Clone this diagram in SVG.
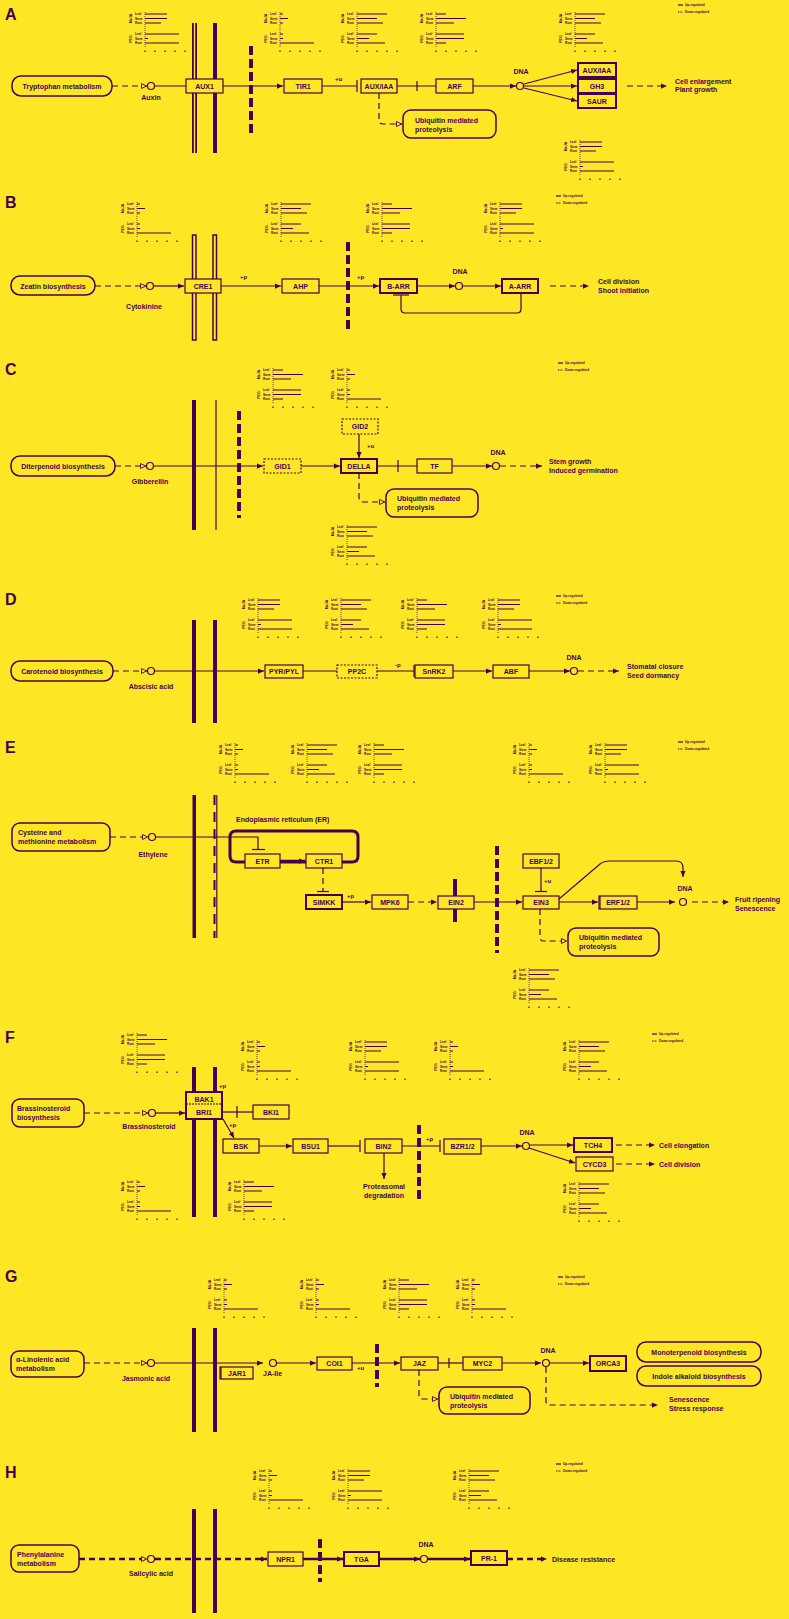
<svg xmlns="http://www.w3.org/2000/svg" xmlns:xlink="http://www.w3.org/1999/xlink" width="789" height="1619" viewBox="0 0 789 1619">
<style>
.t{font-family:"Liberation Sans",Arial,sans-serif;font-weight:bold;font-size:7px;fill:#440154}
.m{text-anchor:middle}
.pl{font-size:16px}
.sm{font-size:6px}
.cv{font-family:"Liberation Sans",Arial,sans-serif;font-weight:bold;font-size:3.6px;fill:#440154;text-anchor:middle}
.cr{font-family:"Liberation Sans",Arial,sans-serif;font-weight:bold;font-size:3px;fill:#440154}
.lgt{font-family:"Liberation Sans",Arial,sans-serif;font-weight:bold;font-size:3.2px;fill:#440154}
.ax{stroke:#440154;stroke-width:0.7;stroke-dasharray:1 1;fill:none}
.br{stroke:#440154;stroke-width:1.2;fill:none}
.bx{fill:#FDE725;stroke:#440154;stroke-width:1.2}
.bb{stroke-width:2}
.bd{stroke-dasharray:2 1.5}
.rb{fill:#FDE725;stroke:#440154;stroke-width:1.5}
.c{fill:none;stroke:#440154;stroke-width:1.2}
.d{stroke-dasharray:6 4}
.tk{stroke-width:2.5}
.mem{fill:#440154}
.memo{fill:none;stroke:#440154;stroke-width:1.5}
.dm{fill:none;stroke:#440154;stroke-width:4;stroke-dasharray:9 4}
.lig{fill:#FDE725;stroke:#440154;stroke-width:1.2}
</style>
<defs>
<marker id="ar" viewBox="0 0 8 8" refX="8" refY="4" markerWidth="6" markerHeight="6" markerUnits="userSpaceOnUse" orient="auto"><path d="M0,0.5 L8,4 L0,7.5z" fill="#440154"/></marker>
<marker id="oa" viewBox="0 0 8 8" refX="8" refY="4" markerWidth="6" markerHeight="6" markerUnits="userSpaceOnUse" orient="auto"><path d="M0.7,0.7 L7.5,4 L0.7,7.3z" fill="#FDE725" stroke="#440154" stroke-width="1.2"/></marker>
<g id="chb">
<text class="cv" transform="translate(4,6.5) rotate(-90)">MeJA</text>
<text class="cv" transform="translate(4,27) rotate(-90)">PEG</text>
<text class="cr" x="7" y="3">Leaf</text>
<text class="cr" x="7" y="7.5">Stem</text>
<text class="cr" x="7" y="12">Root</text>
<text class="cr" x="7" y="23">Leaf</text>
<text class="cr" x="7" y="27.5">Stem</text>
<text class="cr" x="7" y="32">Root</text>
<line class="ax" x1="17" y1="0" x2="17" y2="36"/>
<path class="br" d="M17,38.5v1.5M27,38.5v1.5M37,38.5v1.5M47,38.5v1.5M57,38.5v1.5"/>
</g>
<path id="b1" class="br" d="M17,2h22M17,6.5h22M17,11h16M17,22h34M17,26.5h3M17,31h34"/>
<path id="b2" class="br" d="M17,2h3M17,6.5h8M17,11h3M17,22h3M17,26.5h3M17,31h34"/>
<path id="b3" class="br" d="M17,2h30M17,6.5h20M17,11h26M17,22h20M17,26.5h12M17,31h28"/>
<path id="b4" class="br" d="M17,2h10M17,6.5h30M17,11h18M17,22h28M17,26.5h28M17,31h10"/>
<g id="lg"><path d="M0,-1h5" class="br" stroke-width="0.8"/><text class="lgt" x="7" y="0">Up-regulated</text><path d="M0,6h5" class="br" stroke-width="0.8" stroke-dasharray="1 0.6"/><text class="lgt" x="7" y="7">Down-regulated</text></g>
</defs>
<rect width="789" height="1619" fill="#FDE725"/>

<!-- ================= PANEL A ================= -->
<g id="panelA">
<text class="t pl" x="5" y="20">A</text>
<g id="A-charts">
<g transform="translate(128,12)"><use href="#chb"/><use href="#b1"/></g>
<g transform="translate(263,12)"><use href="#chb"/><use href="#b2"/></g>
<g transform="translate(340,12)"><use href="#chb"/><use href="#b3"/></g>
<g transform="translate(419,12)"><use href="#chb"/><use href="#b4"/></g>
<g transform="translate(558,12)"><use href="#chb"/><use href="#b3"/></g>
<g transform="translate(563,140)"><use href="#chb"/><use href="#b1"/></g>
<g transform="translate(678,6)"><use href="#lg"/></g>
</g>
<g id="A-membrane">
<rect class="mem" x="192" y="23" width="1.8" height="130"/>
<rect class="mem" x="195.2" y="23" width="1.8" height="130"/>
<rect class="mem" x="213" y="23" width="4" height="130"/>
<line class="dm" x1="251" y1="46" x2="251" y2="137"/>
</g>
<g id="A-connectors">
<line class="c d" x1="112" y1="86" x2="147" y2="86" marker-end="url(#oa)"/>
<line class="c" x1="155" y1="86" x2="283" y2="86" marker-end="url(#ar)"/>
<line class="c" x1="322" y1="86" x2="357" y2="86"/>
<line class="c" x1="357" y1="80" x2="357" y2="92" stroke-width="1.5"/>
<line class="c" x1="397" y1="86" x2="436" y2="86"/>
<line class="c" x1="417" y1="81" x2="417" y2="91"/>
<line class="c" x1="473" y1="86" x2="516" y2="86" marker-end="url(#ar)"/>
<line class="c" x1="524" y1="84" x2="577" y2="70" marker-end="url(#ar)"/>
<line class="c" x1="524" y1="86" x2="577" y2="86" marker-end="url(#ar)"/>
<line class="c" x1="524" y1="88" x2="577" y2="101" marker-end="url(#ar)"/>
<line class="c d" x1="627" y1="86" x2="667" y2="86" marker-end="url(#ar)"/>
<path class="c d" d="M379,93 V120 Q379,124 383,124 H402" marker-end="url(#oa)"/>
<text class="t sm" x="335" y="81">+u</text>
</g>
<g id="A-tryptophan"><rect class="rb" x="12" y="76" width="100" height="20" rx="9"/><text class="t m" x="62" y="88.5">Tryptophan metabolism</text></g>
<g id="A-auxin"><circle class="lig" cx="151" cy="86" r="3.5"/><text class="t m" x="151" y="100">Auxin</text></g>
<g id="A-AUX1"><rect class="bx" x="186" y="79" width="37" height="14"/><text class="t m" x="204.5" y="88.5">AUX1</text></g>
<g id="A-TIR1"><rect class="bx" x="284" y="79" width="38" height="14"/><text class="t m" x="303" y="88.5">TIR1</text></g>
<g id="A-AUXIAA"><rect class="bx" x="361" y="79" width="36" height="14"/><text class="t m" x="379" y="88.5">AUX/IAA</text></g>
<g id="A-ARF"><rect class="bx" x="436" y="79" width="37" height="14"/><text class="t m" x="454.5" y="88.5">ARF</text></g>
<g id="A-DNA"><circle class="lig" cx="520" cy="86" r="3.5"/><text class="t m" x="521" y="74">DNA</text></g>
<g id="A-AUXIAA2"><rect class="bx bb" x="578" y="63" width="38" height="14"/><text class="t m" x="597" y="72.5">AUX/IAA</text></g>
<g id="A-GH3"><rect class="bx bb" x="578" y="79" width="38" height="14"/><text class="t m" x="597" y="88.5">GH3</text></g>
<g id="A-SAUR"><rect class="bx bb" x="578" y="94" width="38" height="14"/><text class="t m" x="597" y="103.5">SAUR</text></g>
<g id="A-out"><text class="t" x="675" y="84">Cell enlargement</text><text class="t" x="675" y="92">Plant growth</text></g>
<g id="A-ubq"><rect class="rb" x="403" y="110" width="93" height="28" rx="8"/><text class="t" x="415" y="123">Ubiquitin mediated</text><text class="t" x="415" y="131.5">proteolysis</text></g>
</g>

<!-- ================= PANEL B ================= -->
<g id="panelB">
<text class="t pl" x="5" y="208">B</text>
<g id="B-charts">
<g transform="translate(120,202)"><use href="#chb"/><use href="#b2"/></g>
<g transform="translate(264,202)"><use href="#chb"/><use href="#b3"/></g>
<g transform="translate(365,202)"><use href="#chb"/><use href="#b4"/></g>
<g transform="translate(483,202)"><use href="#chb"/><use href="#b1"/></g>
<g transform="translate(556,197)"><use href="#lg"/></g>
</g>
<g id="B-membrane">
<rect class="memo" x="192.5" y="235" width="3.5" height="105"/>
<rect class="memo" x="213" y="235" width="3.5" height="105"/>
<line class="dm" x1="348" y1="242" x2="348" y2="333"/>
</g>
<g id="B-connectors">
<line class="c d" x1="95" y1="286" x2="146" y2="286" marker-end="url(#oa)"/>
<line class="c" x1="154" y1="286" x2="184" y2="286" marker-end="url(#ar)"/>
<line class="c" x1="221" y1="286" x2="281" y2="286" marker-end="url(#ar)"/>
<line class="c" x1="319" y1="286" x2="379" y2="286" marker-end="url(#ar)"/>
<line class="c" x1="417" y1="286" x2="455" y2="286" marker-end="url(#ar)"/>
<line class="c" x1="463" y1="286" x2="501" y2="286" marker-end="url(#ar)"/>
<path class="c" d="M521,293 V309 Q521,313 517,313 H405 Q401,313 401,309 V295"/>
<line class="c" x1="393" y1="295" x2="409" y2="295" stroke-width="1.5"/>
<line class="c d" x1="550" y1="286" x2="589" y2="286" marker-end="url(#ar)"/>
<text class="t sm" x="240" y="279">+p</text>
<text class="t sm" x="357" y="279">+p</text>
</g>
<g id="B-zeatin"><rect class="rb" x="11" y="276" width="84" height="19" rx="9"/><text class="t m" x="53" y="288.5">Zeatin biosynthesis</text></g>
<g id="B-cytokinine"><circle class="lig" cx="150" cy="286" r="3.5"/><text class="t m" x="144" y="309">Cytokinine</text></g>
<g id="B-CRE1"><rect class="bx" x="185" y="279" width="36" height="14"/><text class="t m" x="203" y="288.5">CRE1</text></g>
<g id="B-AHP"><rect class="bx" x="282" y="279" width="37" height="14"/><text class="t m" x="300.5" y="288.5">AHP</text></g>
<g id="B-BARR"><rect class="bx bb" x="380" y="279" width="37" height="14"/><text class="t m" x="398.5" y="288.5">B-ARR</text></g>
<g id="B-DNA"><circle class="lig" cx="459" cy="286" r="3.5"/><text class="t m" x="460" y="274">DNA</text></g>
<g id="B-AARR"><rect class="bx bb" x="502" y="279" width="36" height="14"/><text class="t m" x="520" y="288.5">A-ARR</text></g>
<g id="B-out"><text class="t" x="598" y="284">Cell division</text><text class="t" x="598" y="293">Shoot initiation</text></g>
</g>

<!-- ================= PANEL C ================= -->
<g id="panelC">
<text class="t pl" x="5" y="375">C</text>
<g id="C-charts">
<g transform="translate(256,368)"><use href="#chb"/><use href="#b4"/></g>
<g transform="translate(330,368)"><use href="#chb"/><use href="#b2"/></g>
<g transform="translate(330,525)"><use href="#chb"/><use href="#b3"/></g>
<g transform="translate(558,364)"><use href="#lg"/></g>
</g>
<g id="C-membrane">
<rect class="mem" x="192" y="400" width="4" height="130"/>
<line class="c" x1="216" y1="400" x2="216" y2="530"/>
<line class="dm" x1="239" y1="411" x2="239" y2="518"/>
</g>
<g id="C-connectors">
<line class="c d" x1="115" y1="466" x2="146" y2="466" marker-end="url(#oa)"/>
<line class="c" x1="154" y1="466" x2="263" y2="466" marker-end="url(#ar)"/>
<line class="c" x1="301" y1="466" x2="340" y2="466" marker-end="url(#ar)"/>
<line class="c" x1="359" y1="434" x2="359" y2="458" marker-end="url(#ar)"/>
<line class="c" x1="377" y1="466" x2="417" y2="466"/>
<line class="c" x1="398" y1="460" x2="398" y2="472" stroke-width="1.5"/>
<line class="c" x1="452" y1="466" x2="492" y2="466" marker-end="url(#ar)"/>
<line class="c d" x1="500" y1="466" x2="542" y2="466" marker-end="url(#ar)"/>
<path class="c d" d="M359,473 V497 Q359,502 364,502 H385" marker-end="url(#oa)"/>
<text class="t sm" x="367" y="448">+u</text>
</g>
<g id="C-diterpenoid"><rect class="rb" x="11" y="456" width="104" height="20" rx="9"/><text class="t m" x="63" y="468.5">Diterpenoid biosynthesis</text></g>
<g id="C-gibberellin"><circle class="lig" cx="150" cy="466" r="3.5"/><text class="t m" x="150" y="484">Gibberellin</text></g>
<g id="C-GID1"><rect class="bx bd" x="264" y="459" width="37" height="14"/><text class="t m" x="282.5" y="468.5">GID1</text></g>
<g id="C-GID2"><rect class="bx bd" x="342" y="419" width="36" height="15"/><text class="t m" x="360" y="429">GID2</text></g>
<g id="C-DELLA"><rect class="bx bb" x="341" y="459" width="36" height="14"/><text class="t m" x="359" y="468.5">DELLA</text></g>
<g id="C-TF"><rect class="bx" x="417" y="459" width="35" height="14"/><text class="t m" x="434.5" y="468.5">TF</text></g>
<g id="C-DNA"><circle class="lig" cx="496" cy="466" r="3.5"/><text class="t m" x="498" y="455">DNA</text></g>
<g id="C-out"><text class="t" x="549" y="464">Stem growth</text><text class="t" x="549" y="473">Induced germination</text></g>
<g id="C-ubq"><rect class="rb" x="386" y="489" width="92" height="28" rx="8"/><text class="t" x="397" y="501">Ubiquitin mediated</text><text class="t" x="397" y="510">proteolysis</text></g>
</g>

<!-- ================= PANEL D ================= -->
<g id="panelD">
<text class="t pl" x="5" y="605">D</text>
<g id="D-charts">
<g transform="translate(241,598)"><use href="#chb"/><use href="#b1"/></g>
<g transform="translate(324,598)"><use href="#chb"/><use href="#b3"/></g>
<g transform="translate(400,598)"><use href="#chb"/><use href="#b4"/></g>
<g transform="translate(481,598)"><use href="#chb"/><use href="#b1"/></g>
<g transform="translate(556,597)"><use href="#lg"/></g>
</g>
<g id="D-membrane">
<rect class="mem" x="192" y="620" width="4" height="103"/>
<rect class="mem" x="213" y="620" width="4" height="103"/>
</g>
<g id="D-connectors">
<line class="c d" x1="113" y1="671" x2="147" y2="671" marker-end="url(#oa)"/>
<line class="c" x1="155" y1="671" x2="264" y2="671" marker-end="url(#ar)"/>
<line class="c" x1="303" y1="671" x2="337" y2="671"/>
<line class="c" x1="377" y1="671" x2="414" y2="671"/>
<line class="c" x1="414" y1="665" x2="414" y2="677" stroke-width="1.5"/>
<line class="c" x1="453" y1="671" x2="492" y2="671" marker-end="url(#ar)"/>
<line class="c" x1="529" y1="671" x2="570" y2="671" marker-end="url(#ar)"/>
<line class="c d" x1="578" y1="671" x2="619" y2="671" marker-end="url(#ar)"/>
<text class="t sm" x="395" y="667">-p</text>
</g>
<g id="D-carotenoid"><rect class="rb" x="11" y="661" width="102" height="20" rx="9"/><text class="t m" x="62" y="673.5">Carotenoid biosynthesis</text></g>
<g id="D-aba"><circle class="lig" cx="151" cy="671" r="3.5"/><text class="t m" x="151" y="689">Abscisic acid</text></g>
<g id="D-PYR"><rect class="bx" x="265" y="665" width="38" height="13"/><text class="t m" x="284" y="674">PYR/PYL</text></g>
<g id="D-PP2C"><rect class="bx bd" x="337" y="665" width="40" height="13"/><text class="t m" x="357" y="674">PP2C</text></g>
<g id="D-SnRK2"><rect class="bx" x="415" y="665" width="38" height="13"/><text class="t m" x="434" y="674">SnRK2</text></g>
<g id="D-ABF"><rect class="bx" x="493" y="665" width="36" height="13"/><text class="t m" x="511" y="674">ABF</text></g>
<g id="D-DNA"><circle class="lig" cx="574" cy="671" r="3.5"/><text class="t m" x="574" y="660">DNA</text></g>
<g id="D-out"><text class="t" x="627" y="669">Stomatal closure</text><text class="t" x="627" y="678">Seed dormancy</text></g>
</g>

<!-- ================= PANEL E ================= -->
<g id="panelE">
<text class="t pl" x="5" y="753">E</text>
<g id="E-charts">
<g transform="translate(218,743)"><use href="#chb"/><use href="#b2"/></g>
<g transform="translate(290,743)"><use href="#chb"/><use href="#b3"/></g>
<g transform="translate(357,743)"><use href="#chb"/><use href="#b4"/></g>
<g transform="translate(512,743)"><use href="#chb"/><use href="#b2"/></g>
<g transform="translate(588,743)"><use href="#chb"/><use href="#b1"/></g>
<g transform="translate(512,968)"><use href="#chb"/><use href="#b3"/></g>
<g transform="translate(678,743)"><use href="#lg"/></g>
</g>
<g id="E-membrane">
<rect class="mem" x="192.5" y="795" width="3.5" height="143"/>
<line class="c" x1="216.8" y1="795" x2="216.8" y2="938"/>
<line x1="214.5" y1="795" x2="214.5" y2="938" stroke="#440154" stroke-width="2" stroke-dasharray="10 7"/>
<line class="dm" x1="497" y1="846" x2="497" y2="953"/>
<path d="M236,831 H352 Q358,831 358,837 V856 Q358,862 352,862 H342 M306,862 H280 M245,862 H236 Q230,862 230,856 V837 Q230,831 236,831" fill="none" stroke="#440154" stroke-width="3"/>
<text class="t" x="236" y="822">Endoplasmic reticulum (ER)</text>
</g>
<g id="E-connectors">
<line class="c d" x1="110" y1="837" x2="148" y2="837" marker-end="url(#oa)"/>
<path class="c" d="M156,837 H258 V849"/>
<line class="c" x1="252" y1="849.5" x2="265" y2="849.5" stroke-width="1.5"/>
<line class="c tk" x1="280" y1="861" x2="305" y2="861" marker-end="url(#ar)"/>
<line class="c d" x1="323" y1="868" x2="323" y2="891" stroke-dasharray="4 3"/>
<line class="c" x1="317" y1="891.5" x2="329" y2="891.5" stroke-width="1.5"/>
<line class="c" x1="342" y1="902" x2="371" y2="902" marker-end="url(#ar)"/>
<line class="c d" x1="408" y1="902" x2="437" y2="902" marker-end="url(#ar)"/>
<line class="c" x1="474" y1="902" x2="522" y2="902" marker-end="url(#ar)"/>
<line class="c" x1="541" y1="868" x2="541" y2="891"/>
<line class="c" x1="535" y1="891.5" x2="547" y2="891.5" stroke-width="1.5"/>
<path class="c" d="M559,899 L600,864 Q604,861 610,861 H676 Q683,861 683,868 V877" marker-end="url(#ar)"/>
<line class="c" x1="559" y1="902" x2="598" y2="902" marker-end="url(#ar)"/>
<line class="c" x1="637" y1="902" x2="675" y2="902" marker-end="url(#ar)"/>
<line class="c d" x1="692" y1="902" x2="729" y2="902" marker-end="url(#ar)"/>
<path class="c d" d="M540,909 V937 Q540,941 544,941 H567" marker-end="url(#oa)"/>
<text class="t sm" x="347" y="898">+p</text>
<text class="t sm" x="544" y="883">+u</text>
</g>
<g id="E-cysteine"><rect class="rb" x="12" y="823" width="98" height="28" rx="8"/><text class="t" x="18" y="834.5">Cysteine and</text><text class="t" x="18" y="843.5">methionine metabolism</text></g>
<g id="E-ethylene"><circle class="lig" cx="152" cy="837" r="3.5"/><text class="t m" x="153" y="857">Ethylene</text></g>
<g id="E-ETR"><rect class="bx" x="245" y="854" width="35" height="14"/><text class="t m" x="262.5" y="863.5">ETR</text></g>
<g id="E-CTR1"><rect class="bx" x="306" y="854" width="36" height="14"/><text class="t m" x="324" y="863.5">CTR1</text></g>
<g id="E-SIMKK"><rect class="bx bb" x="306" y="895" width="36" height="14"/><text class="t m" x="324" y="904.5">SIMKK</text></g>
<g id="E-MPK6"><rect class="bx" x="372" y="895" width="36" height="14"/><text class="t m" x="390" y="904.5">MPK6</text></g>
<g id="E-EIN2"><rect class="mem" x="453" y="879" width="4" height="43"/><rect class="bx" x="438" y="896" width="36" height="13"/><text class="t m" x="456" y="905">EIN2</text></g>
<g id="E-EBF"><rect class="bx" x="523" y="854" width="36" height="14"/><text class="t m" x="541" y="863.5">EBF1/2</text></g>
<g id="E-EIN3"><rect class="bx" x="523" y="896" width="36" height="13"/><text class="t m" x="541" y="905">EIN3</text></g>
<g id="E-ERF"><rect class="bx" x="599" y="896" width="38" height="13"/><line class="c" x1="600" y1="896" x2="600" y2="909" stroke-width="2"/><text class="t m" x="618" y="905">ERF1/2</text></g>
<g id="E-DNA"><circle class="lig" cx="683" cy="902" r="3.5"/><text class="t m" x="685" y="891">DNA</text></g>
<g id="E-out"><text class="t" x="735" y="902">Fruit ripening</text><text class="t" x="735" y="910.5">Senescence</text></g>
<g id="E-ubq"><rect class="rb" x="568" y="928" width="91" height="28" rx="8"/><text class="t" x="579" y="940">Ubiquitin mediated</text><text class="t" x="579" y="949">proteolysis</text></g>
</g>

<!-- ================= PANEL F ================= -->
<g id="panelF">
<text class="t pl" x="5" y="1043">F</text>
<g id="F-charts">
<g transform="translate(120,1033)"><use href="#chb"/><use href="#b4"/></g>
<g transform="translate(240,1040)"><use href="#chb"/><use href="#b2"/></g>
<g transform="translate(348,1040)"><use href="#chb"/><use href="#b1"/></g>
<g transform="translate(433,1040)"><use href="#chb"/><use href="#b2"/></g>
<g transform="translate(562,1040)"><use href="#chb"/><use href="#b3"/></g>
<g transform="translate(120,1180)"><use href="#chb"/><use href="#b2"/></g>
<g transform="translate(227,1180)"><use href="#chb"/><use href="#b4"/></g>
<g transform="translate(562,1182)"><use href="#chb"/><use href="#b3"/></g>
<g transform="translate(652,1035)"><use href="#lg"/></g>
</g>
<g id="F-membrane">
<rect class="mem" x="192" y="1067" width="4" height="150"/>
<rect class="mem" x="213" y="1067" width="4" height="150"/>
<line class="dm" x1="419" y1="1125" x2="419" y2="1201"/>
</g>
<g id="F-connectors">
<line class="c d" x1="84" y1="1113" x2="148" y2="1113" marker-end="url(#oa)"/>
<line class="c" x1="156" y1="1113" x2="185" y2="1113" marker-end="url(#ar)"/>
<line class="c" x1="222" y1="1112" x2="253" y2="1112"/>
<line class="c" x1="237" y1="1106" x2="237" y2="1118"/>
<line class="c" x1="223" y1="1119" x2="234" y2="1138" marker-end="url(#ar)"/>
<line class="c" x1="259" y1="1146" x2="292" y2="1146" marker-end="url(#ar)"/>
<line class="c" x1="328" y1="1146" x2="360" y2="1146"/>
<line class="c" x1="360" y1="1140" x2="360" y2="1152" stroke-width="1.5"/>
<line class="c" x1="384" y1="1153" x2="384" y2="1179" marker-end="url(#ar)"/>
<line class="c" x1="402" y1="1146" x2="440" y2="1146"/>
<line class="c" x1="440" y1="1140" x2="440" y2="1152" stroke-width="1.5"/>
<line class="c" x1="481" y1="1146" x2="522" y2="1146" marker-end="url(#ar)"/>
<line class="c" x1="530" y1="1145" x2="573" y2="1145" marker-end="url(#ar)"/>
<line class="c" x1="529" y1="1148" x2="575" y2="1163" marker-end="url(#ar)"/>
<line class="c d" x1="616" y1="1145" x2="655" y2="1145" marker-end="url(#ar)"/>
<line class="c d" x1="616" y1="1164" x2="655" y2="1164" marker-end="url(#ar)"/>
<text class="t sm" x="219" y="1088">+p</text>
<text class="t sm" x="229" y="1127">+p</text>
<text class="t sm" x="426" y="1141">+p</text>
</g>
<g id="F-brassinosteroid-bio"><rect class="rb" x="12" y="1099" width="72" height="28" rx="8"/><text class="t" x="17" y="1110.5">Brassinosteroid</text><text class="t" x="17" y="1119.5">biosynthesis</text></g>
<g id="F-brassinosteroid"><circle class="lig" cx="152" cy="1113" r="3.5"/><text class="t m" x="149" y="1129">Brassinosteroid</text></g>
<g id="F-BAK1BRI1"><rect class="bx bb" x="186" y="1092" width="36" height="27"/><line class="c" x1="186" y1="1104" x2="222" y2="1104" stroke-dasharray="2 1"/><text class="t m" x="204" y="1101.5">BAK1</text><text class="t m" x="204" y="1115">BRI1</text></g>
<g id="F-BKI1"><rect class="bx" x="253" y="1105" width="36" height="14"/><text class="t m" x="271" y="1114.5">BKI1</text></g>
<g id="F-BSK"><rect class="bx" x="223" y="1139" width="36" height="14"/><text class="t m" x="241" y="1148.5">BSK</text></g>
<g id="F-BSU1"><rect class="bx" x="293" y="1139" width="35" height="14"/><text class="t m" x="310.5" y="1148.5">BSU1</text></g>
<g id="F-BIN2"><rect class="bx" x="365" y="1139" width="37" height="14"/><text class="t m" x="383.5" y="1148.5">BIN2</text></g>
<g id="F-proteasomal"><text class="t m" x="384" y="1189">Proteasomal</text><text class="t m" x="384" y="1198">degradation</text></g>
<g id="F-BZR"><rect class="bx" x="444" y="1139" width="37" height="15"/><text class="t m" x="462.5" y="1149">BZR1/2</text></g>
<g id="F-DNA"><circle class="lig" cx="526" cy="1146" r="3.5"/><text class="t m" x="527" y="1135">DNA</text></g>
<g id="F-TCH4"><rect class="bx bb" x="574" y="1138" width="38" height="14"/><text class="t m" x="593" y="1147.5">TCH4</text></g>
<g id="F-CYCD3"><rect class="bx" x="576" y="1157" width="37" height="14"/><text class="t m" x="594.5" y="1166.5">CYCD3</text></g>
<g id="F-out"><text class="t" x="659" y="1148">Cell elongation</text><text class="t" x="659" y="1167">Cell division</text></g>
</g>

<!-- ================= PANEL G ================= -->
<g id="panelG">
<text class="t pl" x="5" y="1282">G</text>
<g id="G-charts">
<g transform="translate(207,1278)"><use href="#chb"/><use href="#b2"/></g>
<g transform="translate(299,1278)"><use href="#chb"/><use href="#b2"/></g>
<g transform="translate(382,1278)"><use href="#chb"/><use href="#b4"/></g>
<g transform="translate(455,1278)"><use href="#chb"/><use href="#b2"/></g>
<g transform="translate(558,1278)"><use href="#lg"/></g>
</g>
<g id="G-membrane">
<rect class="mem" x="192" y="1328" width="4" height="104"/>
<rect class="mem" x="213" y="1328" width="4" height="104"/>
<line class="dm" x1="377" y1="1344" x2="377" y2="1387"/>
</g>
<g id="G-connectors">
<line class="c d" x1="84" y1="1363" x2="147" y2="1363" marker-end="url(#oa)"/>
<line class="c" x1="155" y1="1363" x2="263" y2="1363" marker-end="url(#ar)"/>
<line class="c" x1="277" y1="1363" x2="316" y2="1363" marker-end="url(#ar)"/>
<line class="c" x1="352" y1="1363" x2="400" y2="1363" marker-end="url(#ar)"/>
<line class="c" x1="438" y1="1363" x2="463" y2="1363"/>
<line class="c" x1="449" y1="1358" x2="449" y2="1368"/>
<line class="c" x1="502" y1="1363" x2="541" y2="1363" marker-end="url(#ar)"/>
<line class="c" x1="550" y1="1363" x2="589" y2="1363" marker-end="url(#ar)"/>
<path class="c d" d="M419,1370 V1395 Q419,1399 423,1399 H438" marker-end="url(#oa)"/>
<path class="c d" d="M546,1367 V1401 Q546,1405 550,1405 H658" marker-end="url(#ar)"/>
<text class="t sm" x="357" y="1370">+u</text>
</g>
<g id="G-linolenic"><rect class="rb" x="11" y="1351" width="73" height="26" rx="8"/><text class="t" x="16" y="1362">α-Linolenic acid</text><text class="t" x="16" y="1371">metabolism</text></g>
<g id="G-ja"><circle class="lig" cx="151" cy="1363" r="3.5"/><text class="t m" x="146" y="1381">Jasmonic acid</text></g>
<g id="G-JAR1"><rect class="bx" x="220" y="1367" width="33" height="12"/><line class="c" x1="221" y1="1367" x2="221" y2="1379" stroke-width="2"/><text class="t m" x="237" y="1375.5">JAR1</text></g>
<g id="G-JAIle"><circle class="lig" cx="273" cy="1363" r="3.5"/><text class="t" x="263" y="1376">JA-Ile</text></g>
<g id="G-COI1"><rect class="bx" x="317" y="1357" width="35" height="13"/><text class="t m" x="334.5" y="1366">COI1</text></g>
<g id="G-JAZ"><rect class="bx" x="401" y="1357" width="37" height="13"/><text class="t m" x="419.5" y="1366">JAZ</text></g>
<g id="G-MYC2"><rect class="bx" x="463" y="1357" width="39" height="13"/><text class="t m" x="482.5" y="1366">MYC2</text></g>
<g id="G-DNA"><circle class="lig" cx="546" cy="1363" r="3.5"/><text class="t m" x="548" y="1353">DNA</text></g>
<g id="G-ORCA3"><rect class="bx bb" x="590" y="1356" width="36" height="15"/><text class="t m" x="608" y="1366">ORCA3</text></g>
<g id="G-mono"><rect class="rb" x="637" y="1342" width="124" height="20" rx="9"/><text class="t m" x="699" y="1354.5">Monoterpenoid biosynthesis</text></g>
<g id="G-indole"><rect class="rb" x="637" y="1366" width="124" height="20" rx="9"/><text class="t m" x="699" y="1378.5">Indole alkaloid biosynthesis</text></g>
<g id="G-ubq"><rect class="rb" x="439" y="1387" width="91" height="27" rx="8"/><text class="t" x="450" y="1399">Ubiquitin mediated</text><text class="t" x="450" y="1408">proteolysis</text></g>
<g id="G-out"><text class="t" x="669" y="1402">Senescence</text><text class="t" x="669" y="1411">Stress response</text></g>
</g>

<!-- ================= PANEL H ================= -->
<g id="panelH">
<text class="t pl" x="5" y="1478">H</text>
<g id="H-charts">
<g transform="translate(252,1469)"><use href="#chb"/><use href="#b2"/></g>
<g transform="translate(331,1469)"><use href="#chb"/><use href="#b1"/></g>
<g transform="translate(452,1469)"><use href="#chb"/><use href="#b3"/></g>
<g transform="translate(556,1465)"><use href="#lg"/></g>
</g>
<g id="H-membrane">
<rect class="mem" x="192" y="1509" width="4" height="104"/>
<rect class="mem" x="213" y="1509" width="4" height="104"/>
<line class="dm" x1="320" y1="1539" x2="320" y2="1582"/>
</g>
<g id="H-connectors">
<line class="c d tk" x1="79" y1="1559" x2="147" y2="1559" marker-end="url(#oa)"/>
<line class="c d tk" x1="155" y1="1559" x2="267" y2="1559" marker-end="url(#ar)"/>
<line class="c tk" x1="303" y1="1559" x2="343" y2="1559" marker-end="url(#ar)"/>
<line class="c tk" x1="379" y1="1559" x2="420" y2="1559" marker-end="url(#ar)"/>
<line class="c tk" x1="428" y1="1559" x2="470" y2="1559" marker-end="url(#ar)"/>
<line class="c d tk" x1="507" y1="1559" x2="547" y2="1559" marker-end="url(#ar)"/>
</g>
<g id="H-phenylalanine"><rect class="rb" x="11" y="1545" width="68" height="27" rx="8"/><text class="t" x="17" y="1556.5">Phenylalanine</text><text class="t" x="17" y="1566">metabolism</text></g>
<g id="H-sa"><circle class="lig" cx="151" cy="1559" r="3.5"/><text class="t m" x="151" y="1576">Salicylic acid</text></g>
<g id="H-NPR1"><rect class="bx" x="268" y="1552" width="35" height="14"/><text class="t m" x="285.5" y="1561.5">NPR1</text></g>
<g id="H-TGA"><rect class="bx bb" x="344" y="1552" width="35" height="14"/><text class="t m" x="361.5" y="1561.5">TGA</text></g>
<g id="H-DNA"><circle class="lig" cx="424" cy="1559" r="3.5"/><text class="t m" x="426" y="1547">DNA</text></g>
<g id="H-PR1"><rect class="bx bb" x="471" y="1551" width="36" height="14"/><text class="t m" x="489" y="1560.5">PR-1</text></g>
<g id="H-out"><text class="t" x="552" y="1562">Disease resistance</text></g>
</g>
</svg>
